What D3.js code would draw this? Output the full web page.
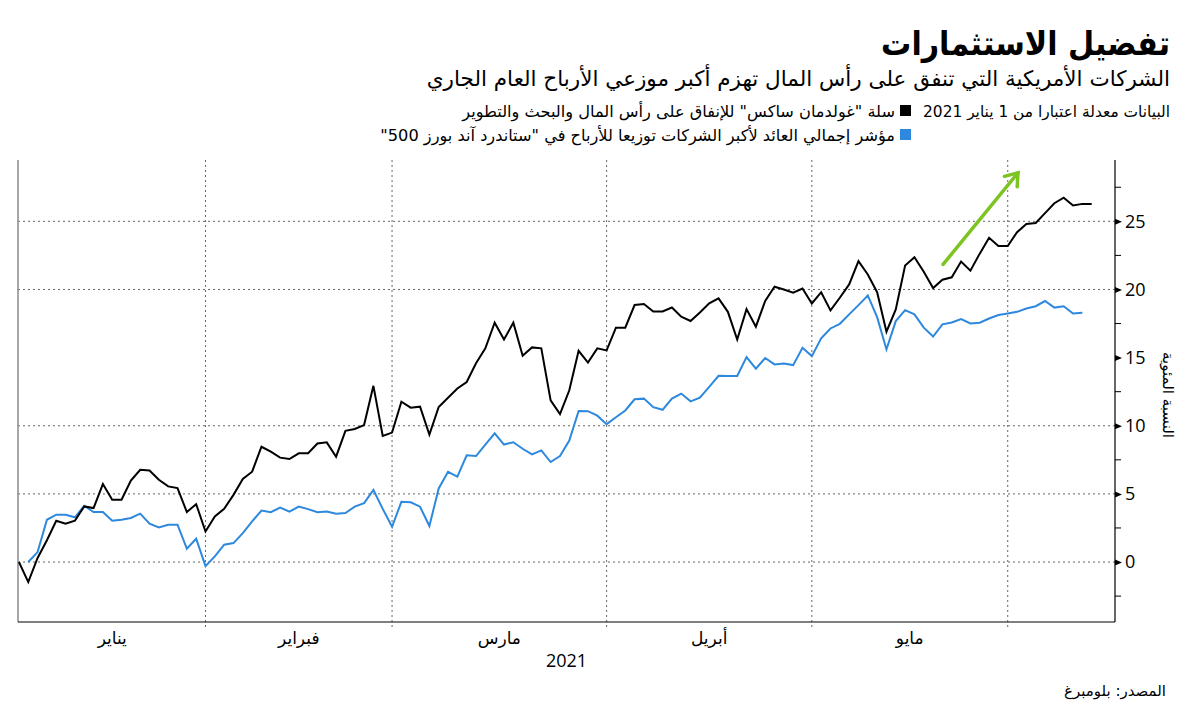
<!DOCTYPE html>
<html>
<head>
<meta charset="utf-8">
<script src="https://cdn.jsdelivr.net/npm/d3@7"></script>
<style>
  html, body { margin: 0; padding: 0; background: #fff; }
  svg { display: block; }
  .ar { font-family: "DejaVu Sans", "Noto Sans", sans-serif; }
  .arc { font-family: "DejaVu Sans Condensed", "DejaVu Sans", sans-serif; font-stretch: condensed; }
  .num { font-family: "Open Sans", "Noto Sans", sans-serif; }
</style>
</head>
<body>
<script>
// ---------- DATA ----------
const title = "تفضيل الاستثمارات";
const subtitle = "الشركات الأمريكية التي تنفق على رأس المال تهزم أكبر موزعي الأرباح العام الجاري";
const legendNote = "البيانات معدلة اعتبارا من 1 يناير 2021";
const seriesNames = ["سلة \"غولدمان ساكس\" للإنفاق على رأس المال والبحث والتطوير",
                     "مؤشر إجمالي العائد لأكبر الشركات توزيعا للأرباح في \"ستاندرد آند بورز 500\""];
const yTitle = "النسبة المئوية";
const yearLabel = "2021";
const source = "المصدر: بلومبرغ";

// trading-day index at which each month begins, and month labels
const monthStarts = [0, 20, 40, 63, 85, 106];
const monthLabels = ["يناير", "فبراير", "مارس", "أبريل", "مايو"];
const lastIndex = 117.5;

const yTicks = [0, 5, 10, 15, 20, 25];
const yMinorTicks = [-2.5, 2.5, 7.5, 12.5, 17.5, 22.5, 27.5];
const yGrid = [0, 5, 10, 20, 25];

// Goldman Sachs capex & R&D basket (%, rebased 1 Jan 2021)
const capexBasket = [
  0, -1.47, 0.3, 1.6, 3.03, 2.81, 3.03, 4.08, 3.96, 5.72,
  4.57, 4.57, 5.97, 6.77, 6.72, 6.04, 5.55, 5.43, 3.67, 4.25,
  2.24, 3.34, 3.9, 4.93, 6.1, 6.63, 8.46, 8.1, 7.66, 7.56,
  7.98, 7.98, 8.7, 8.78, 7.73, 9.63, 9.76, 10.05, 12.93, 9.25,
  9.5, 11.76, 11.33, 11.4, 9.35, 11.38, 12.05, 12.73, 13.21, 14.59,
  15.68, 17.56, 16.33, 17.56, 15.14, 15.75, 15.68, 11.86, 10.85, 12.6,
  15.5, 14.64, 15.68, 15.53, 17.2, 17.2, 18.86, 18.93, 18.39, 18.39,
  18.68, 18.0, 17.69, 18.31, 18.98, 19.35, 18.36, 16.33, 18.56, 17.27,
  19.16, 20.2, 20.0, 19.76, 20.07, 18.97, 19.8, 18.46, 19.39, 20.37,
  22.08, 21.1, 19.8, 16.9, 18.53, 21.76, 22.37, 21.3, 20.1, 20.72,
  20.89, 22.05, 21.38, 22.63, 23.79, 23.19, 23.19, 24.2, 24.81, 24.88,
  25.6, 26.33, 26.74, 26.16, 26.28, 26.28
];

// S&P 500 top dividend payers total return index (%)
const dividendIndex = [
  null, 0, 0.73, 3.1, 3.47, 3.47, 3.28, 4.13, 3.67, 3.67,
  3.03, 3.1, 3.23, 3.55, 2.81, 2.54, 2.74, 2.74, 0.98, 1.71,
  -0.3, 0.41, 1.27, 1.39, 2.12, 2.98, 3.78, 3.66, 4.0, 3.7,
  4.07, 3.88, 3.66, 3.7, 3.54, 3.59, 4.07, 4.32, 5.29, 3.9,
  2.59, 4.42, 4.38, 4.06, 2.64, 5.4, 6.62, 6.26, 7.83, 7.78,
  8.62, 9.44, 8.62, 8.79, 8.31, 7.9, 8.19, 7.34, 7.78, 8.91,
  11.08, 11.07, 10.74, 10.12, 10.62, 11.12, 11.94, 11.99, 11.36, 11.17,
  11.99, 12.36, 11.79, 12.06, 12.85, 13.67, 13.65, 13.65, 15.04, 14.19,
  14.97, 14.5, 14.57, 14.45, 15.72, 15.11, 16.41, 17.14, 17.48, 18.17,
  18.85, 19.56, 17.97, 15.6, 17.68, 18.48, 18.17, 17.2, 16.55, 17.44,
  17.58, 17.83, 17.51, 17.56, 17.87, 18.12, 18.24, 18.36, 18.6, 18.77,
  19.15, 18.67, 18.77, 18.24, 18.29, null
];

// trend arrow annotation [index, value]
const arrowFrom = [99.07, 21.84];
const arrowTo = [107.1, 28.56];

// ---------- CHART ----------
const W = 1200, H = 710;
const plot = { left: 18, right: 1115, top: 160, bottom: 622 };
const colors = { capex: "#000000", div: "#2d88de", arrow: "#7cc421", grid: "#666" };

const svg = d3.select("body").append("svg").attr("width", W).attr("height", H);

const x = d3.scaleLinear().domain([-0.1, lastIndex]).range([plot.left, plot.right]);
const y = d3.scaleLinear().domain([-4.4, 29.5]).range([plot.bottom, plot.top]);

// horizontal gridlines
svg.append("g").selectAll("line").data(yGrid).join("line")
  .attr("x1", plot.left).attr("x2", plot.right)
  .attr("y1", d => y(d)).attr("y2", d => y(d))
  .attr("stroke", colors.grid).attr("stroke-width", 1).attr("stroke-dasharray", "2,3");

// vertical month gridlines
svg.append("g").selectAll("line").data(monthStarts.slice(1)).join("line")
  .attr("x1", d => x(d)).attr("x2", d => x(d))
  .attr("y1", plot.top).attr("y2", plot.bottom + 8)
  .attr("stroke", colors.grid).attr("stroke-width", 1).attr("stroke-dasharray", "2,3");

// left frame line
svg.append("line").attr("x1", plot.left).attr("x2", plot.left)
  .attr("y1", plot.top).attr("y2", plot.bottom).attr("stroke", "#8a8a8a").attr("stroke-width", 1.5);
// bottom axis line
svg.append("line").attr("x1", plot.left).attr("x2", plot.right)
  .attr("y1", plot.bottom).attr("y2", plot.bottom).attr("stroke", "#000").attr("stroke-width", 1.2);

// right axis
const yAxis = d3.axisRight(y).tickValues(yTicks).tickSize(0).tickPadding(10).tickFormat(d3.format("d"));
const gy = svg.append("g").attr("transform", `translate(${plot.right},0)`).call(yAxis);
gy.select(".domain").attr("stroke", "#000").attr("stroke-width", 1.2).attr("d", `M0,${plot.top}V${plot.bottom}`);
gy.selectAll("text").attr("class", "num").attr("font-size", 18).attr("fill", "#000");
gy.selectAll(".tick").append("path").attr("d", "M0,-3L7,0L0,3Z").attr("fill", "#000");
svg.append("g").selectAll("line").data(yMinorTicks).join("line")
  .attr("x1", plot.right).attr("x2", plot.right + 6)
  .attr("y1", d => y(d)).attr("y2", d => y(d))
  .attr("stroke", "#000").attr("stroke-width", 1);

// y title
svg.append("text").attr("class", "ar")
  .attr("transform", `translate(1163,${(plot.top + plot.bottom) / 2 + 4}) rotate(90)`)
  .attr("text-anchor", "middle").attr("font-size", 15).attr("fill", "#000")
  .text(yTitle);

// month labels
svg.append("g").selectAll("text").data(monthLabels).join("text")
  .attr("class", "ar")
  .attr("x", (d, i) => x((monthStarts[i] + monthStarts[i + 1]) / 2))
  .attr("y", 644).attr("text-anchor", "middle").attr("font-size", 17).attr("fill", "#000")
  .text(d => d);
svg.append("text").attr("class", "num")
  .attr("x", (plot.left + plot.right) / 2).attr("y", 667)
  .attr("text-anchor", "middle").attr("font-size", 18).attr("fill", "#000").text(yearLabel);

// lines
const line = d3.line().defined(d => d != null).x((d, i) => x(i)).y(d => y(d));
svg.append("path").datum(dividendIndex).attr("d", line)
  .attr("fill", "none").attr("stroke", colors.div).attr("stroke-width", 2).attr("stroke-linejoin", "miter");
svg.append("path").datum(capexBasket).attr("d", line)
  .attr("fill", "none").attr("stroke", colors.capex).attr("stroke-width", 2).attr("stroke-linejoin", "miter");

// arrow annotation
const ax1 = x(arrowFrom[0]), ay1 = y(arrowFrom[1]), ax2 = x(arrowTo[0]), ay2 = y(arrowTo[1]);
const ang = Math.atan2(ay2 - ay1, ax2 - ax1);
const hl = 14, ha = Math.PI / 5;
svg.append("line").attr("x1", ax1).attr("y1", ay1).attr("x2", ax2).attr("y2", ay2)
  .attr("stroke", colors.arrow).attr("stroke-width", 3.5).attr("stroke-linecap", "round");
svg.append("path")
  .attr("d", `M${ax2 - hl * Math.cos(ang - ha)},${ay2 - hl * Math.sin(ang - ha)}L${ax2},${ay2}L${ax2 - hl * Math.cos(ang + ha)},${ay2 - hl * Math.sin(ang + ha)}`)
  .attr("fill", "none").attr("stroke", colors.arrow).attr("stroke-width", 3.5)
  .attr("stroke-linecap", "round").attr("stroke-linejoin", "miter");

// headings
svg.append("text").attr("class", "arc").attr("x", 1170).attr("y", 55)
  .attr("direction", "rtl").attr("text-anchor", "start")
  .attr("font-size", 33.5).attr("font-weight", "bold").attr("fill", "#000").text(title);
svg.append("text").attr("class", "ar").attr("x", 1170).attr("y", 86)
  .attr("direction", "rtl").attr("text-anchor", "start")
  .attr("font-size", 21.5).attr("fill", "#000").text(subtitle);

// legend
svg.append("text").attr("class", "ar").attr("x", 1170).attr("y", 117)
  .attr("direction", "rtl").attr("text-anchor", "start")
  .attr("font-size", 15.4).attr("fill", "#000").text(legendNote);
const legendX = 911;
const legendRows = [{ name: seriesNames[0], color: colors.capex, y: 111 }, { name: seriesNames[1], color: colors.div, y: 135 }];
const lg = svg.append("g").selectAll("g").data(legendRows).join("g");
lg.append("rect").attr("x", legendX - 11).attr("y", d => d.y - 6).attr("width", 11).attr("height", 11).attr("fill", d => d.color);
lg.append("text").attr("class", "ar").attr("x", legendX - 16).attr("y", d => d.y + 6)
  .attr("direction", "rtl").attr("text-anchor", "start")
  .attr("font-size", 16.2).attr("fill", "#000").text(d => d.name);

// source
svg.append("text").attr("class", "ar").attr("x", 1166).attr("y", 696)
  .attr("direction", "rtl").attr("text-anchor", "start")
  .attr("font-size", 15).attr("fill", "#000").text(source);
</script>
</body>
</html>
